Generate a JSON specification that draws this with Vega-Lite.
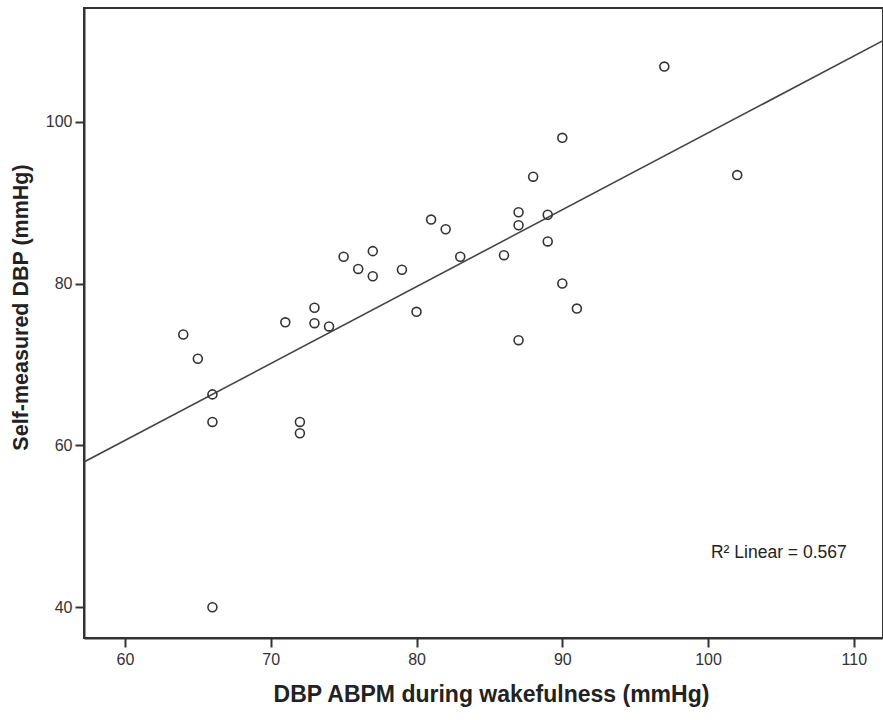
{
  "$schema": "https://vega.github.io/schema/vega-lite/v6.json",
  "autosize": "none",
  "width": 799,
  "height": 630,
  "padding": {"left": 84, "top": 8, "right": 0, "bottom": 82},
  "background": "white",
  "config": {
    "view": {"stroke": "#333333", "strokeWidth": 2},
    "font": "Liberation Sans",
    "axis": {
      "grid": false,
      "domainColor": "#333333",
      "domainWidth": 2,
      "tickColor": "#333333",
      "tickWidth": 2,
      "tickSize": 9,
      "labelColor": "#333333",
      "labelFontSize": 16,
      "labelFont": "Liberation Sans",
      "titleFont": "Liberation Sans",
      "titleFontWeight": "bold",
      "titleColor": "#222222"
    }
  },
  "datasets": {
    "points": [
      {"abpm": 97, "self": 106.8},
      {"abpm": 102, "self": 93.4},
      {"abpm": 88, "self": 93.2},
      {"abpm": 90, "self": 98.0},
      {"abpm": 87, "self": 88.8},
      {"abpm": 87, "self": 87.2},
      {"abpm": 89, "self": 88.5},
      {"abpm": 89, "self": 85.2},
      {"abpm": 81, "self": 87.9},
      {"abpm": 82, "self": 86.7},
      {"abpm": 83, "self": 83.3},
      {"abpm": 86, "self": 83.5},
      {"abpm": 79, "self": 81.7},
      {"abpm": 90, "self": 80.0},
      {"abpm": 80, "self": 76.5},
      {"abpm": 91, "self": 76.9},
      {"abpm": 87, "self": 73.0},
      {"abpm": 75, "self": 83.3},
      {"abpm": 77, "self": 84.0},
      {"abpm": 76, "self": 81.8},
      {"abpm": 77, "self": 80.9},
      {"abpm": 73, "self": 77.0},
      {"abpm": 71, "self": 75.2},
      {"abpm": 73, "self": 75.1},
      {"abpm": 74, "self": 74.7},
      {"abpm": 64, "self": 73.7},
      {"abpm": 65, "self": 70.7},
      {"abpm": 66, "self": 66.3},
      {"abpm": 66, "self": 62.9},
      {"abpm": 72, "self": 62.9},
      {"abpm": 72, "self": 61.5},
      {"abpm": 66, "self": 40.0}
    ],
    "fit": [
      {"abpm": 57.19, "self": 57.95},
      {"abpm": 112, "self": 110.0}
    ],
    "note": [
      {"abpm": 100.2, "self": 46.75, "label": "R² Linear = 0.567"}
    ]
  },
  "layer": [
    {
      "data": {"name": "fit"},
      "mark": {"type": "line", "color": "#444444", "strokeWidth": 1.6, "clip": true},
      "encoding": {
        "x": {"field": "abpm", "type": "quantitative"},
        "y": {"field": "self", "type": "quantitative"}
      }
    },
    {
      "data": {"name": "points"},
      "mark": {"type": "point", "shape": "circle", "filled": false, "stroke": "#333333", "strokeWidth": 1.6, "size": 80, "opacity": 1},
      "encoding": {
        "x": {
          "field": "abpm", "type": "quantitative",
          "scale": {"domain": [57.19, 112], "nice": false, "zero": false},
          "axis": {"values": [60, 70, 80, 90, 100, 110], "title": "DBP ABPM during wakefulness (mmHg)", "titleFontSize": 23, "titleX": 407, "titlePadding": 16, "labelPadding": 4}
        },
        "y": {
          "field": "self", "type": "quantitative",
          "scale": {"domain": [36.2, 114.04], "nice": false, "zero": false},
          "axis": {"values": [40, 60, 80, 100], "title": "Self-measured DBP (mmHg)", "titleFontSize": 21.5, "titleY": 299, "titlePadding": 13, "labelPadding": 3}
        }
      }
    },
    {
      "data": {"name": "note"},
      "mark": {"type": "text", "align": "left", "baseline": "middle", "fontSize": 17.5, "color": "#222222", "font": "Liberation Sans"},
      "encoding": {
        "x": {"field": "abpm", "type": "quantitative"},
        "y": {"field": "self", "type": "quantitative"},
        "text": {"field": "label"}
      }
    }
  ]
}
